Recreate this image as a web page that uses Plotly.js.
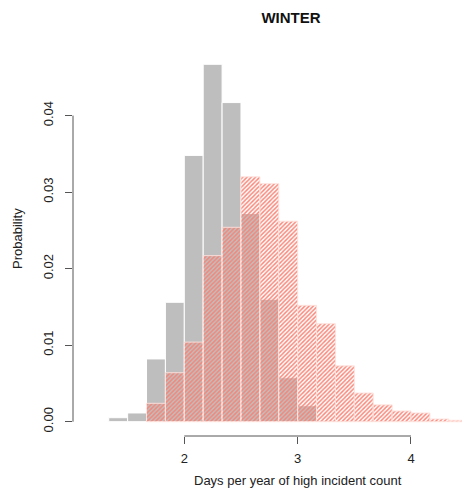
<!DOCTYPE html>
<html>
<head>
<meta charset="utf-8">
<script src="https://cdn.plot.ly/plotly-3.0.1.min.js"></script>
<style>html,body{margin:0;padding:0;background:#fff;}#chart{width:462px;height:495px;}</style>
</head>
<body>
<div id="chart"></div>
<script>
// Bin left edges (days per year), bin width 1/6
const binStarts = [1.3333, 1.5, 1.6667, 1.8333, 2.0, 2.1667, 2.3333, 2.5, 2.6667, 2.8333,
                   3.0, 3.1667, 3.3333, 3.5, 3.6667, 3.8333, 4.0, 4.1667, 4.3333];
// Gray histogram (baseline)
const grayProb = [0.00052, 0.00114, 0.0082, 0.0156, 0.0348, 0.0467, 0.0417, 0.0272, 0.0160, 0.00575,
                  0.00209, 0.0001, null, null, null, null, null, null, null];
// Red hatched histogram
const redProb = [null, null, 0.0024, 0.0064, 0.0104, 0.0217, 0.0254, 0.0320, 0.0311, 0.0262,
                 0.0152, 0.0128, 0.0073, 0.00375, 0.0022, 0.0014, 0.00114, 0.00035, 0.00018];
const xTicks = [2, 3, 4];
const xTickLabels = ['2', '3', '4'];
const yTicks = [0, 0.01, 0.02, 0.03, 0.04];
const yTickLabels = ['0.00', '0.01', '0.02', '0.03', '0.04'];

const BIN_W = 1 / 6;
const FONT = 'Liberation Sans, Arial, sans-serif';
const W = 462, H = 495;
const M = {l: 73, r: 0, t: 50, b: 59};
const pw = W - M.l - M.r, ph = H - M.t - M.b;
const px2paperX = p => (p - M.l) / pw;
const px2paperY = p => (H - M.b - p) / ph;

const traces = [
  {
    type: 'bar', x: binStarts, y: grayProb, width: BIN_W, offset: 0,
    marker: {color: '#bebebe', line: {color: '#ffffff', width: 1}},
    hoverinfo: 'x+y', showlegend: false
  },
  {
    type: 'bar', x: binStarts, y: redProb, width: BIN_W, offset: 0,
    marker: {
      color: 'rgba(0,0,0,0)',
      line: {color: 'rgba(255,225,220,0.9)', width: 1},
      pattern: {shape: '/', fillmode: 'replace', fgcolor: '#f98274', bgcolor: 'rgba(0,0,0,0)',
                fgopacity: 0.95, size: 3, solidity: 0.5}
    },
    hoverinfo: 'x+y', showlegend: false
  }
];

const layout = {
  width: W, height: H,
  margin: M,
  paper_bgcolor: '#ffffff', plot_bgcolor: '#ffffff',
  barmode: 'overlay', bargap: 0,
  font: {family: FONT, size: 13, color: '#222'},
  title: {
    text: '<b>WINTER</b>', font: {family: FONT, size: 15, color: '#111'},
    xref: 'paper', x: px2paperX(291), xanchor: 'center',
    yref: 'container', y: 1 - 18 / H, yanchor: 'middle'
  },
  xaxis: {
    range: [1.018, 4.450], tickmode: 'array', tickvals: xTicks, ticktext: xTickLabels,
    ticks: 'outside', ticklen: 7, tickwidth: 1, tickcolor: '#555', ticklabelstandoff: 3,
    showline: false, showgrid: false, zeroline: false,
    tickfont: {family: FONT, size: 13, color: '#222'}, fixedrange: true
  },
  yaxis: {
    range: [-0.00187, 0.04857], tickmode: 'array', tickvals: yTicks, ticktext: yTickLabels,
    ticks: 'outside', ticklen: 7, tickwidth: 1, tickcolor: '#555', tickangle: -90, ticklabelstandoff: 7,
    showline: false, showgrid: false, zeroline: false,
    tickfont: {family: FONT, size: 13, color: '#222'}, fixedrange: true
  },
  shapes: [
    {type: 'line', xref: 'x', yref: 'paper', x0: xTicks[0], x1: xTicks[xTicks.length - 1], y0: 0, y1: 0,
     line: {color: '#555', width: 1}},
    {type: 'line', xref: 'paper', yref: 'y', x0: 0, x1: 0, y0: yTicks[0], y1: yTicks[yTicks.length - 1],
     line: {color: '#555', width: 1}}
  ],
  annotations: [
    {text: 'Days per year of high incident count', xref: 'paper', yref: 'paper',
     x: px2paperX(298), y: px2paperY(480), xanchor: 'center', yanchor: 'middle',
     showarrow: false, font: {family: FONT, size: 13, color: '#222'}},
    {text: 'Probability', xref: 'paper', yref: 'paper', textangle: -90,
     x: px2paperX(18), y: px2paperY(238), xanchor: 'center', yanchor: 'middle',
     showarrow: false, font: {family: FONT, size: 13, color: '#222'}}
  ]
};

Plotly.newPlot('chart', traces, layout, {displayModeBar: false, staticPlot: true});
</script>
</body>
</html>
